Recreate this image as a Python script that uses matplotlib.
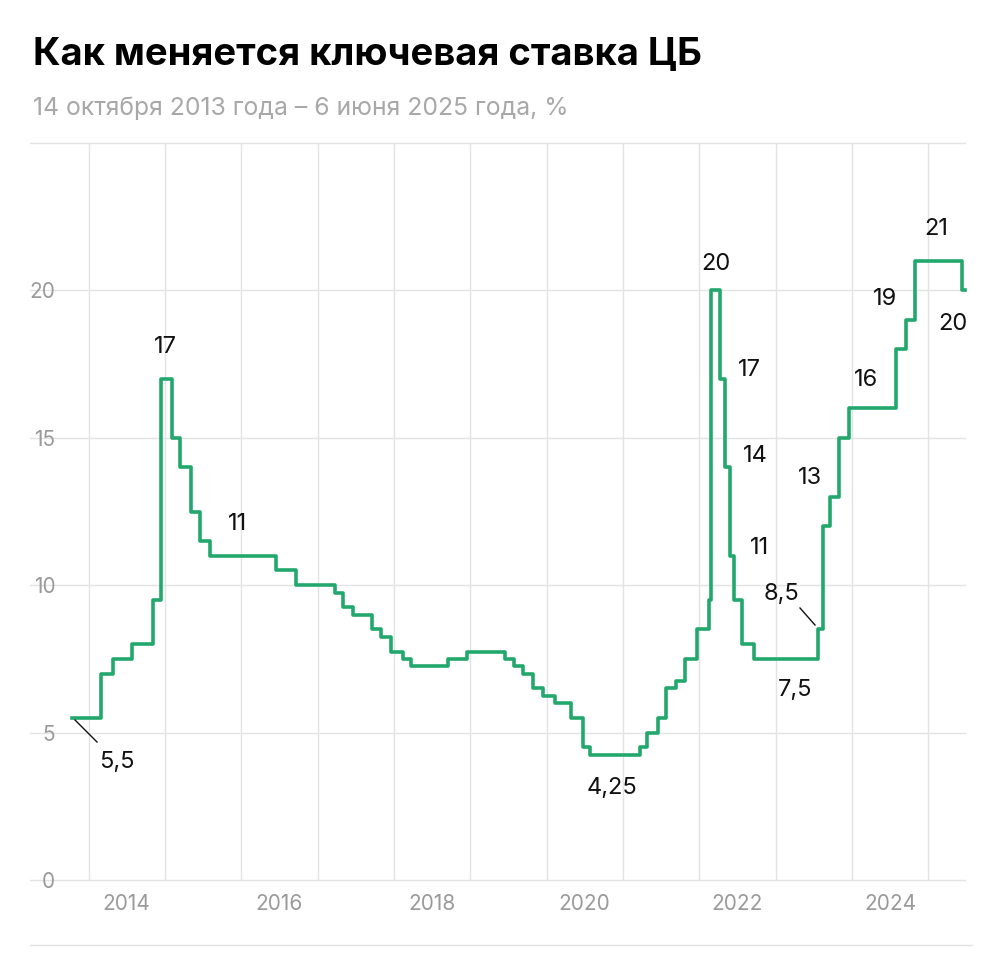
import matplotlib
matplotlib.use("Agg")
import matplotlib.pyplot as plt
import pandas as pd

plt.rcParams["font.family"] = "Inter"

dates = ["2013-10-14","2014-03-03","2014-04-28","2014-07-28","2014-11-05","2014-12-12","2014-12-16",
         "2015-02-02","2015-03-16","2015-05-05","2015-06-16","2015-08-03","2016-06-14","2016-09-19",
         "2017-03-27","2017-05-02","2017-06-19","2017-09-18","2017-10-30","2017-12-18","2018-02-12",
         "2018-03-26","2018-09-17","2018-12-17","2019-06-17","2019-07-29","2019-09-09","2019-10-28",
         "2019-12-16","2020-02-10","2020-04-27","2020-06-22","2020-07-27","2021-03-22","2021-04-26",
         "2021-06-15","2021-07-26","2021-09-13","2021-10-25","2021-12-20","2022-02-14","2022-02-28",
         "2022-04-11","2022-05-04","2022-05-27","2022-06-14","2022-07-25","2022-09-19","2023-07-24",
         "2023-08-15","2023-09-18","2023-10-30","2023-12-18","2024-07-29","2024-09-16","2024-10-28",
         "2025-06-09","2025-06-25"]
rates = [5.5,7.0,7.5,8.0,9.5,10.5,17.0,15.0,14.0,12.5,11.5,11.0,10.5,10.0,9.75,9.25,9.0,8.5,8.25,7.75,
         7.5,7.25,7.5,7.75,7.5,7.25,7.0,6.5,6.25,6.0,5.5,4.5,4.25,4.5,5.0,5.5,6.5,6.75,7.5,8.5,9.5,20,
         17,14,11,9.5,8.0,7.5,8.5,12,13,15,16,18,19,21,20,20]
year_labels = ["2014","2016","2018","2020","2022","2024"]
y_ticks = [0, 5, 10, 15, 20]
title = "Как меняется ключевая ставка ЦБ"
subtitle = "14 октября 2013 года – 6 июня 2025 года, %"

W, H = 1004, 959
fig = plt.figure(figsize=(W/100, H/100), dpi=100)
ax = fig.add_axes([72/W, (H-880)/H, (965-72)/W, (880-143)/H])
x = pd.to_datetime(dates)
ax.step(x, rates, where="post", color="#22a86c", lw=2.6, zorder=3, clip_on=False)
ax.set_xlim(pd.Timestamp("2013-10-14"), pd.Timestamp("2025-06-25"))
ax.set_ylim(0, 25)
for s in ax.spines.values():
    s.set_visible(False)
ax.set_yticks(y_ticks)
ax.set_yticklabels([str(t) for t in y_ticks], color="#9a9a9a", fontsize=15)
ax.tick_params(axis="y", length=0, pad=12)
for t in [0, 5, 10, 15, 20, 25]:
    ax.plot([30/W, 965/W], [fig.transFigure.inverted().transform(ax.transData.transform((0, t)))[1]]*2,
            transform=fig.transFigure, color="#e3e3e3", lw=1, zorder=0, clip_on=False)
yrs = [pd.Timestamp(f"{y}-01-01") for y in range(2014, 2026)]
for d in yrs:
    ax.axvline(d, color="#e3e3e3", lw=1, zorder=0)
ax.set_xticks([pd.Timestamp(f"{l}-07-01") for l in year_labels])
ax.set_xticklabels(year_labels, color="#9a9a9a", fontsize=15)
ax.tick_params(axis="x", length=0, pad=10)
fig.add_artist(plt.Line2D([30/W, 972/W], [(H-945)/H]*2, color="#e3e3e3", lw=1))

fig.text(33/W, (H-55)/H, title, fontsize=27.5, fontweight="bold", va="center")
fig.text(33/W, (H-108)/H, subtitle, fontsize=17.8, color="#a8a8a8", va="center")

def fp(px, py):
    return (px/W, (H-py)/H)
labels = [("5,5",117,762),("17",165,347),("11",238,524),("20",716,264),("17",749,370),("14",755,456),
          ("11",760,548),("8,5",782,594),("7,5",795,690),("4,25",612,788),("13",810,478),("16",866,380),
          ("19",885,299),("21",936,229),("20",953,324)]
for t, px, py in labels:
    fig.text(*fp(px, py), t, fontsize=17, ha="center", va="center", color="#111111")
for (a, b), (c, d) in [((75, 720), (97, 742)), ((800, 608), (815, 625))]:
    fig.add_artist(plt.Line2D([a/W, c/W], [(H-b)/H, (H-d)/H], color="#111111", lw=1))

fig.savefig("out.png", dpi=100, facecolor="white")
